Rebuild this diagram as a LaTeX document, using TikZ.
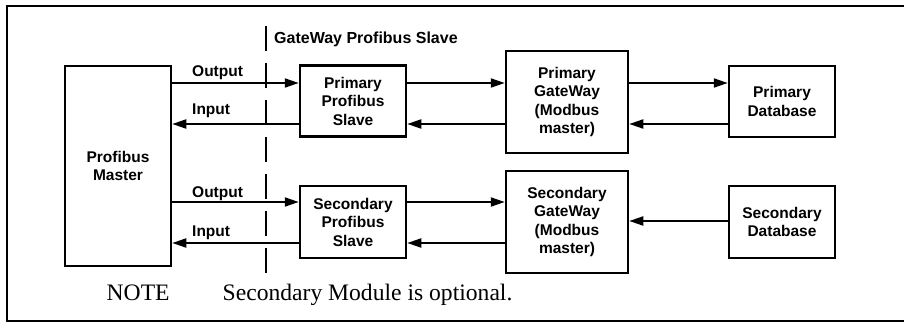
\documentclass[tikz,border=0pt]{standalone}
\usepackage{fontspec}
\setmainfont{Liberation Serif}
\setsansfont{Liberation Sans}
\usetikzlibrary{arrows.meta}

\tikzset{
  blk/.style={draw, line width=2.5pt, inner sep=0pt, align=center,
    font=\sffamily\bfseries\fontsize{15.5}{18.5}\selectfont},
  arr/.style={line width=2pt, -{Triangle[length=14pt,width=9pt]}},
  lbl/.style={anchor=base west, inner sep=0pt,
    font=\sffamily\bfseries\fontsize{15.5}{18.5}\selectfont},
  note/.style={anchor=base west, inner sep=0pt,
    font=\rmfamily\fontsize{23.6}{27}\selectfont},
  divider/.style={line width=2pt, dash pattern=on 25pt off 12pt}
}

\begin{document}
\begin{tikzpicture}[x=1pt, y=-1pt]
  \useasboundingbox (0,0) rectangle (904,323);

  % outer frame (open on the right)
  \draw[line width=2pt] (910,6) -- (7,6) -- (7,321) -- (910,321);

  % blocks
  \node[blk, minimum width=106pt, minimum height=200pt] (master) at (118,166) {Profibus\\Master};
  \node[blk, minimum width=106pt, minimum height=71pt]  (pslave) at (353,101) {Primary\\Profibus\\Slave};
  \node[blk, minimum width=122pt, minimum height=102pt] (pgw)    at (567,102) {Primary\\GateWay\\(Modbus\\master)};
  \node[blk, minimum width=106pt, minimum height=71pt]  (pdb)    at (782,101.5) {Primary\\Database};
  \node[blk, minimum width=106pt, minimum height=72pt]  (sslave) at (353,222) {Secondary\\Profibus\\Slave};
  \node[blk, minimum width=122pt, minimum height=102pt] (sgw)    at (567,222) {Secondary\\GateWay\\(Modbus\\master)};
  \node[blk, minimum width=106pt, minimum height=72pt]  (sdb)    at (782,222) {Secondary\\Database};

  % signal rows
  \coordinate (rowA) at (0,83);
  \coordinate (rowB) at (0,124);
  \coordinate (rowC) at (0,202);
  \coordinate (rowD) at (0,243);
  \coordinate (rowE) at (0,221);

  % gateway boundary
  \coordinate (divtop) at (266,26);
  \coordinate (divbot) at (266,274);
  \draw[divider] (divtop) -- (divbot);
  \node[lbl, font=\sffamily\bfseries\fontsize{16}{19}\selectfont] (gwlabel) at (274,44) {GateWay Profibus Slave};

  % primary chain
  \draw[arr] (master.east |- rowA) -- (pslave.west |- rowA);
  \draw[arr] (pslave.west |- rowB) -- (master.east |- rowB);
  \draw[arr] (pslave.east |- rowA) -- (pgw.west |- rowA);
  \draw[arr] (pgw.west |- rowB) -- (pslave.east |- rowB);
  \draw[arr] (pgw.east |- rowA) -- (pdb.west |- rowA);
  \draw[arr] (pdb.west |- rowB) -- (pgw.east |- rowB);

  % secondary chain
  \draw[arr] (master.east |- rowC) -- (sslave.west |- rowC);
  \draw[arr] (sslave.west |- rowD) -- (master.east |- rowD);
  \draw[arr] (sslave.east |- rowC) -- (sgw.west |- rowC);
  \draw[arr] (sgw.west |- rowD) -- (sslave.east |- rowD);
  \draw[arr] (sdb.west |- rowE) -- (sgw.east |- rowE);

  % arrow labels
  \node[lbl] (out1) at (192,76.5) {Output};
  \node[lbl] (in1)  at (192,115) {Input};
  \node[lbl] (out2) at (192,197.5) {Output};
  \node[lbl] (in2)  at (192,236.5) {Input};

  % footnote
  \node[note] (notehead) at (106.5,300) {NOTE};
  \node[note] (notetext) at (222.5,300) {Secondary Module is optional.};
\end{tikzpicture}
\end{document}
